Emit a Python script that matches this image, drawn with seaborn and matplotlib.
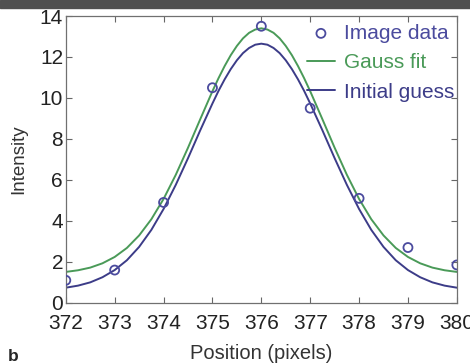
import numpy as np
import pandas as pd
import matplotlib
matplotlib.use("Agg")
import matplotlib.pyplot as plt
import seaborn as sns

# measured pixel intensities
positions = [372, 373, 374, 375, 376, 377, 378, 379, 380]
intensity = [1.1, 1.6, 4.9, 10.5, 13.5, 9.5, 5.1, 2.7, 1.85]

# curves (finer steps near the peak)
curve_x = [372.0, 372.25, 372.5, 372.75, 373.0, 373.25, 373.5, 373.75,
           374.0, 374.25, 374.5, 374.75, 375.0, 375.125, 375.25, 375.375,
           375.5, 375.625, 375.75, 375.875, 376.0, 376.125, 376.25, 376.375,
           376.5, 376.625, 376.75, 376.875, 377.0, 377.25, 377.5, 377.75,
           378.0, 378.25, 378.5, 378.75, 379.0, 379.25, 379.5, 379.75, 380.0]
gauss_fit = [1.51, 1.59, 1.72, 1.93, 2.24, 2.68, 3.29, 4.08,
             5.07, 6.25, 7.57, 8.96, 10.33, 10.97, 11.56, 12.09,
             12.54, 12.91, 13.18, 13.34, 13.40, 13.34, 13.18, 12.91,
             12.54, 12.09, 11.56, 10.97, 10.33, 8.96, 7.57, 6.25,
             5.07, 4.08, 3.29, 2.68, 2.24, 1.93, 1.72, 1.59, 1.51]
initial_guess = [0.74, 0.84, 1.00, 1.25, 1.60, 2.08, 2.73, 3.56,
                 4.58, 5.76, 7.06, 8.42, 9.73, 10.35, 10.91, 11.41,
                 11.84, 12.19, 12.44, 12.60, 12.65, 12.60, 12.44, 12.19,
                 11.84, 11.41, 10.91, 10.35, 9.73, 8.42, 7.06, 5.76,
                 4.58, 3.56, 2.73, 2.08, 1.60, 1.25, 1.00, 0.84, 0.74]

pts = pd.DataFrame({"x": positions, "y": intensity})
curves = pd.DataFrame({"x": curve_x, "fit": gauss_fit, "guess": initial_guess})

sns.set_style("ticks")
plt.rcParams["font.family"] = ["Liberation Sans", "DejaVu Sans"]

green = "#4a9a58"
blue = "#3c3c88"
pt_col = "#4b4b9e"

fig = plt.figure(figsize=(4.7, 3.64), dpi=100)
# dark strip along the top edge
fig.patches.append(plt.Rectangle((0, 0.978), 1, 0.022, transform=fig.transFigure,
                                 color="#505050", zorder=0))
ax = fig.add_axes([0.140, 0.168, 0.832, 0.788])

sns.lineplot(data=curves, x="x", y="fit", color=green, lw=1.4, ax=ax, label="Gauss fit")
sns.lineplot(data=curves, x="x", y="guess", color=blue, lw=1.4, ax=ax, label="Initial guess")
sns.scatterplot(data=pts, x="x", y="y", marker="o", s=42, facecolors="none",
                edgecolor=pt_col, linewidth=1.3, ax=ax, label="Image data", zorder=5)

ax.set_xlim(372, 380)
ax.set_ylim(0, 14)
ax.set_xticks(range(372, 381))
ax.set_yticks(range(0, 15, 2))
ax.tick_params(direction="in", top=True, right=True, length=4, width=0.8,
               colors="#666666", labelcolor="#222222", labelsize=15)
ax.tick_params(axis="x", pad=8)
ax.tick_params(axis="y", pad=2)
for s in ax.spines.values():
    s.set_color("#707070")
    s.set_linewidth(0.9)

ax.set_xlabel("Position (pixels)", fontsize=14.5, color="#333333", labelpad=8)
ax.set_ylabel("Intensity", fontsize=13.5, color="#333333", labelpad=9)

h, l = ax.get_legend_handles_labels()
order = [l.index("Image data"), l.index("Gauss fit"), l.index("Initial guess")]
ax.legend([h[i] for i in order], [l[i] for i in order], loc="upper right",
          bbox_to_anchor=(1.0, 0.98), frameon=False, fontsize=15,
          handlelength=1.35, handletextpad=0.45, labelspacing=0.5,
          borderaxespad=0.0, borderpad=0.1, labelcolor=[pt_col, green, blue])

fig.text(0.017, 0.008, "b", fontsize=12.5, fontweight="bold")

fig.savefig("out.png", dpi=100)
